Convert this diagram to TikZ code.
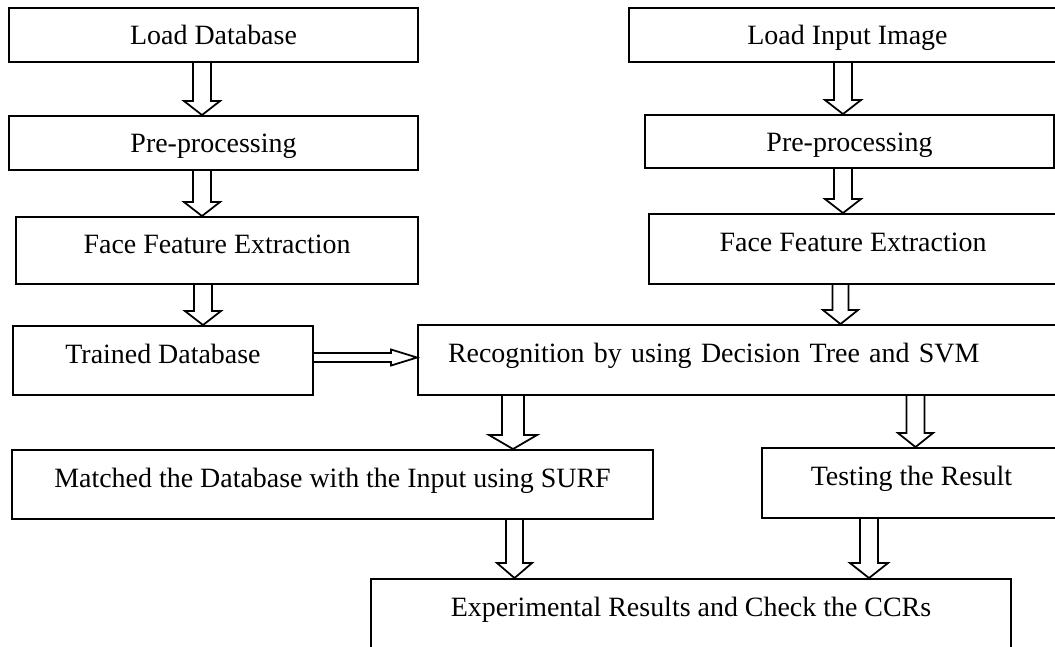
\documentclass[tikz,border=0pt]{standalone}
\usepackage{fontspec}
\setmainfont{Liberation Serif}
\usetikzlibrary{calc}

\tikzset{
  stage/.style={draw, line width=1.1pt, font=\fontsize{15.9}{19}\selectfont,
    text height=0.39cm, text depth=0pt},
  tallstage/.style={stage, text depth=0.29cm},
  % outline arrow: shaft half width, head half width, head length
  hollow/.style n args={3}{line width=1pt, line join=miter, to path={
    ($(\tikztostart)!#1!-90:(\tikztotarget)$)
    -- ($(\tikztotarget)!#3!(\tikztostart)!#1!90:(\tikztostart)$)
    -- ($(\tikztotarget)!#3!(\tikztostart)!#2!90:(\tikztostart)$)
    -- (\tikztotarget)
    -- ($(\tikztotarget)!#3!(\tikztostart)!#2!-90:(\tikztostart)$)
    -- ($(\tikztotarget)!#3!(\tikztostart)!#1!-90:(\tikztostart)$)
    -- ($(\tikztostart)!#1!90:(\tikztotarget)$)}},
}

\begin{document}
\begin{tikzpicture}

    \useasboundingbox (0,0) rectangle (21.1,-12.92);
    \clip (0,0) rectangle (21.1,-12.92);

    % Database side
    \node[stage, minimum width=8.18cm, minimum height=1.08cm] (loaddb) at (4.27,-0.70) {Load Database};
    \node[stage, minimum width=8.18cm, minimum height=1.08cm] (predb) at (4.27,-2.86) {Pre-processing};
    \node[tallstage, minimum width=8.04cm, minimum height=1.34cm] (featdb) at (4.34,-5.01) {Face Feature Extraction};
    \node[tallstage, minimum width=6.00cm, minimum height=1.38cm] (trained) at (3.26,-7.21) {Trained Database};

    % Input side
    \node[stage, minimum width=8.74cm, minimum height=1.08cm] (loadimg) at (16.95,-0.70) {Load Input Image};
    \node[stage, minimum width=8.18cm, minimum height=1.06cm] (preimg) at (16.99,-2.83) {Pre-processing};
    \node[tallstage, minimum width=8.16cm, minimum height=1.40cm] (featimg) at (17.06,-4.98) {Face Feature Extraction};

    % Recognition and results
    \node[tallstage, minimum width=12.84cm, minimum height=1.40cm, inner xsep=0.6cm,
      text width=11.64cm, align=left] (recog) at (14.78,-7.20) {Recognition by using Decision Tree and SVM};
    \node[tallstage, minimum width=12.82cm, minimum height=1.38cm] (matched) at (6.65,-9.69) {Matched the Database with the Input using SURF};
    \node[tallstage, minimum width=5.98cm, minimum height=1.40cm] (testing) at (18.23,-9.66) {Testing the Result};
    \node[tallstage, minimum width=12.80cm, minimum height=1.38cm] (results) at (13.82,-12.27) {Experimental Results and Check the CCRs};

    % Arrows
    \draw[hollow={0.18cm}{0.36cm}{0.28cm}] ([xshift=-0.23cm]loaddb.south) to ([xshift=-0.23cm]predb.north);
    \draw[hollow={0.18cm}{0.36cm}{0.28cm}] ([xshift=-0.23cm]predb.south) to ([xshift=-0.30cm]featdb.north);
    \draw[hollow={0.18cm}{0.36cm}{0.28cm}] ([xshift=-0.28cm]featdb.south) to ([xshift=0.80cm]trained.north);
    \draw[hollow={0.18cm}{0.36cm}{0.28cm}] ([xshift=-0.09cm]loadimg.south) to ([xshift=-0.13cm]preimg.north);
    \draw[hollow={0.18cm}{0.36cm}{0.28cm}] ([xshift=-0.13cm]preimg.south) to ([xshift=-0.20cm]featimg.north);
    \draw[hollow={0.16cm}{0.35cm}{0.28cm}] ([xshift=-0.25cm]featimg.south) to ([xshift=2.03cm]recog.north);
    \draw[hollow={0.09cm}{0.16cm}{0.52cm}] ([yshift=0.06cm]trained.east) to ([yshift=0.05cm]recog.west);
    \draw[hollow={0.22cm}{0.48cm}{0.28cm}] ([xshift=-4.52cm]recog.south) to ([xshift=3.61cm]matched.north);
    \draw[hollow={0.18cm}{0.35cm}{0.28cm}] ([xshift=3.53cm]recog.south) to ([xshift=0.08cm]testing.north);
    \draw[hollow={0.17cm}{0.35cm}{0.30cm}] ([xshift=3.64cm]matched.south) to ([xshift=-3.53cm]results.north);
    \draw[hollow={0.18cm}{0.38cm}{0.30cm}] ([xshift=-0.85cm]testing.south) to ([xshift=3.56cm]results.north);

\end{tikzpicture}
\end{document}
